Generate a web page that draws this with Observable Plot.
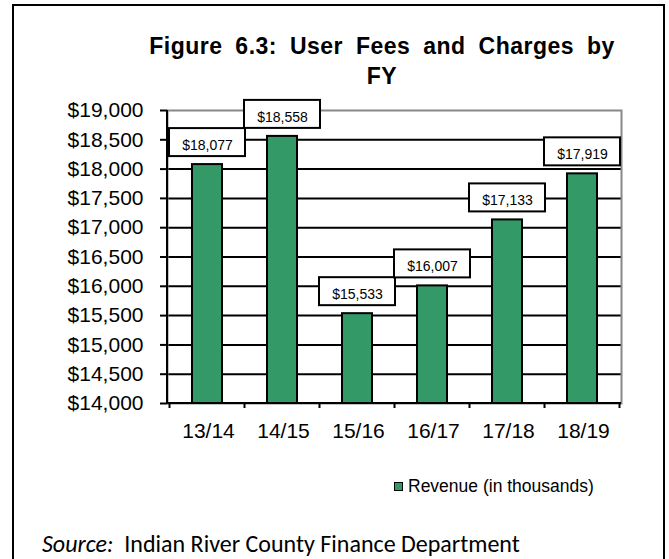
<!DOCTYPE html>
<html>
<head>
<meta charset="utf-8">
<script src="https://cdn.jsdelivr.net/npm/d3@7"></script>
<script src="https://cdn.jsdelivr.net/npm/@observablehq/plot@0.6"></script>
<style>
  html, body { margin: 0; padding: 0; background: #fff; overflow: hidden; }
  #wrap { position: relative; width: 669px; height: 559px; overflow: hidden; font-family: "Liberation Sans", Arial, sans-serif; }
  #outer { position: absolute; left: 12px; top: 4px; width: 653px; height: 700px; border: 2px solid #000; box-sizing: border-box; }
  #title { position: absolute; left: 382px; top: 31px; transform: translateX(-50%); text-align: center; white-space: nowrap;
           font-weight: bold; font-size: 23px; line-height: 30px; letter-spacing: 0.5px; word-spacing: 6px; color: #000; z-index: 2; }
  #chart { position: absolute; left: 0; top: 0; z-index: 1; }
  #legend { position: absolute; left: 394px; top: 476px; display: flex; align-items: center; font-size: 17.5px; color: #000; z-index: 2; }
  #legend .sw { width: 7px; height: 7px; background: #339966; border: 1px solid #000; margin-right: 5px; }
  #source { position: absolute; left: 42px; top: 532px; font-family: Calibri, Carlito, Lato, sans-serif; font-size: 24px; line-height: 24px; white-space: nowrap; color: #000; z-index: 2; }
</style>
</head>
<body>
<div id="wrap">
  <div id="outer"></div>
  <div id="title">Figure 6.3: User Fees and Charges by<br>FY</div>
  <div id="chart"></div>
  <div id="legend"><div class="sw"></div><span>Revenue (in thousands)</span></div>
  <div id="source"><i>Source:</i>&nbsp; Indian River County Finance Department</div>
</div>
<script>
const years = ["13/14", "14/15", "15/16", "16/17", "17/18", "18/19"];
const revenue = [18077, 18558, 15533, 16007, 17133, 17919];
const yTicks = [14000, 14500, 15000, 15500, 16000, 16500, 17000, 17500, 18000, 18500, 19000];
const gridTicks = [14500, 15000, 15500, 16000, 16500, 17000, 17500, 18000, 18500];

const data = years.map((fy, i) => ({fy, value: revenue[i]}));
const money = d => "$" + d3.format(",")(d);
const green = "#339966";
const font = "Liberation Sans, Arial, sans-serif";

function axisLines(index, scales, values, dims) {
  const x = scales.x, y = scales.y;
  const step = x.step(), bw = x.bandwidth();
  const off = (step - bw) / 2;
  const left = dims.marginLeft, right = dims.width - dims.marginRight;
  const top = dims.marginTop, bottom = y(yTicks[0]);
  const g = d3.create("svg:g").attr("stroke", "#000").attr("stroke-width", 2);
  g.append("line").attr("x1", left).attr("x2", left).attr("y1", top).attr("y2", bottom);
  g.append("line").attr("x1", left).attr("x2", right).attr("y1", bottom).attr("y2", bottom);
  const bounds = years.map(c => x(c) - off).concat([x(years[years.length - 1]) + bw + off]);
  for (const bx of bounds) {
    g.append("line").attr("x1", bx).attr("x2", bx).attr("y1", bottom).attr("y2", bottom + 5);
  }
  return g.node();
}

const plot = Plot.plot({
  width: 669,
  height: 450,
  marginLeft: 167,
  marginRight: 48,
  marginTop: 110,
  marginBottom: 47,
  style: {background: "transparent", fontFamily: font, color: "#000"},
  x: {domain: years, paddingInner: 0.6, paddingOuter: 0.3},
  y: {domain: [14000, 19000]},
  marks: [
    Plot.ruleY(gridTicks, {stroke: "#000", strokeWidth: 2}),
    Plot.frame({stroke: "#888", strokeWidth: 2}),
    axisLines,
    Plot.axisY({ticks: yTicks, tickFormat: money, tickSize: 7, tickPadding: 17, fontSize: 21, stroke: "#000", strokeWidth: 2, fill: "#000", label: null}),
    Plot.axisX({tickSize: 0, tickPadding: 20, fontSize: 21, fill: "#000", label: null, dx: 1}),
    Plot.barY(data, {x: "fy", y1: yTicks[0], y2: "value", fill: green, stroke: "#000", strokeWidth: 2}),
    Plot.barY(data, {x: "fy", y1: "value", y2: "value", insetTop: -36, insetBottom: 8, insetLeft: -23, insetRight: -23, fill: "#fff", stroke: "#000", strokeWidth: 2}),
    Plot.text(data, {x: "fy", y: "value", text: d => money(d.value), dy: -19, fontSize: 14, fill: "#000"})
  ]
});
document.getElementById("chart").appendChild(plot);
</script>
</body>
</html>
